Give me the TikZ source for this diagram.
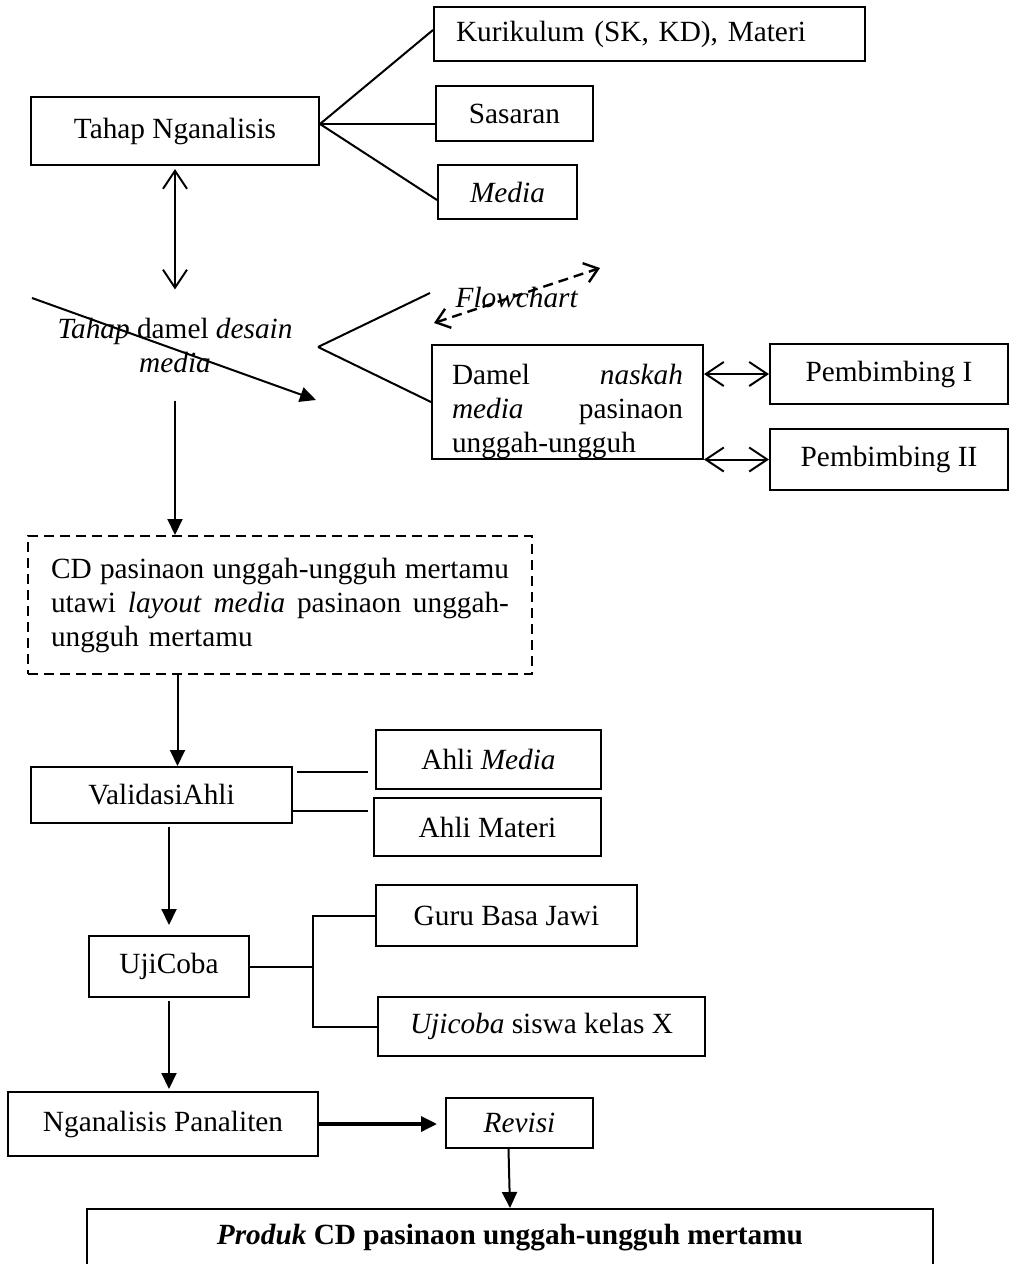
\documentclass[tikz,border=0pt]{standalone}
\usepackage{fontspec}
\setmainfont{Liberation Serif}
\usetikzlibrary{arrows.meta}

\begin{document}
\begin{tikzpicture}[x=1pt,y=-1pt,font=\fontsize{29.3pt}{34pt}\selectfont,
  bx/.style={draw,line width=2pt,inner sep=0pt},
  sz/.style 2 args={minimum width=#1,minimum height=#2},
  link/.style={line width=2pt},
  flow/.style={line width=2pt,-{Triangle[length=16pt,width=15pt]}},
  both/.style={line width=2pt,{Straight Barb[length=18pt,width=24pt]}-{Straight Barb[length=18pt,width=24pt]}}]
\useasboundingbox (0,0) rectangle (1010,1264);
\clip (0,0) rectangle (1010,1264);
\node[bx,sz={288}{68}] (nganalisis) at (175,131) {Tahap Nganalisis};
\node[bx,text width=387,align=left,inner xsep=22pt,minimum height=54] (kurikulum) at (649.5,34) {Kurikulum (SK, KD), Materi};
\node[bx,sz={157}{55}] (sasaran) at (514.5,113.5) {Sasaran};
\node[bx,sz={139}{54}] (media) at (507.5,192) {\textit{Media}};
\node[align=center,inner sep=0pt] (desain) at (175,345) {\textit{Tahap} damel \textit{desain}\\\textit{media}};
\node[inner sep=0pt] (flowchart) at (517,297) {\textit{Flowchart}};
\node[bx,text width=231,align=left,inner xsep=20pt,minimum height=110] (damel) at (567.5,402)
  {\rule{0pt}{40pt}Damel\hfill\textit{naskah}\\\textit{media}\hfill pasinaon\\unggah-ungguh};
\node[bx,sz={238}{60}] (pemb1) at (889,374) {Pembimbing I};
\node[bx,sz={238}{61}] (pemb2) at (889,459.5) {Pembimbing II};
\node[bx,dash pattern=on 10pt off 6pt,text width=458,align=left,inner xsep=23pt,minimum height=138] (cd) at (280,605)
  {CD\hfill pasinaon\hfill unggah-ungguh\hfill mertamu\\utawi\hfill\textit{layout}\hfill\textit{media}\hfill pasinaon\hfill unggah-\\ungguh mertamu};
\node[bx,sz={261}{56}] (valid) at (161.5,795) {ValidasiAhli};
\node[bx,sz={225}{59}] (amedia) at (488.5,759.5) {Ahli \textit{Media}};
\node[bx,sz={227}{58}] (amateri) at (487.5,827) {Ahli Materi};
\node[bx,sz={160}{61}] (uji) at (169,966.5) {UjiCoba};
\node[bx,sz={261}{61}] (guru) at (506.5,915.5) {Guru Basa Jawi};
\node[bx,sz={327}{59}] (siswa) at (541.5,1026.5) {\textit{Ujicoba} siswa kelas X};
\node[bx,sz={310}{64}] (panaliten) at (163,1124) {Nganalisis Panaliten};
\node[bx,sz={147}{50}] (revisi) at (519.5,1123) {\textit{Revisi}};
\node[bx,sz={846}{58}] (produk) at (510,1238) {\textbf{\textit{Produk} CD pasinaon unggah-ungguh mertamu}};
\coordinate (fork) at (318,347);
\coordinate (forktop) at (430,293);
\coordinate (strikea) at (32,298);
\coordinate (strikeb) at (316,400);
\coordinate (fca) at (434,323);
\coordinate (fcb) at (600,268);
\foreach \n/\s in {kurikulum/4pt,sasaran/-10.5pt,media/-8pt}
  \draw[link] ([yshift=7pt]nganalisis.east) -- ([yshift=\s]\n.west);
\draw[both,shorten <=3pt,shorten >=28pt] (nganalisis) -- (desain);
\draw[link] (fork) -- (forktop) (fork) -- (damel.west);
\draw[flow] (strikea) -- (strikeb);
\draw[line width=2.4pt,dash pattern=on 10pt off 6pt,{Straight Barb[length=13pt,width=20pt]}-{Straight Barb[length=13pt,width=20pt]}] (fca) -- (fcb);
\draw[both] (damel.east |- pemb1.west) -- (pemb1.west);
\draw[both] (damel.east |- pemb2.west) -- (pemb2.west);
\draw[flow,shorten <=28pt] (desain.south) -- (desain.south |- cd.north);
\draw[flow] ([xshift=16pt]valid.north |- cd.south) -- ([xshift=16pt]valid.north);
\draw[link] ([shift={(4pt,23pt)}]valid.east) -- ([shift={(-7pt,-12.5pt)}]amedia.west);
\draw[link,line width=2.6pt] ([yshift=-16pt]valid.east) -- ([shift={(-5pt,16pt)}]amateri.west);
\draw[flow,shorten <=3pt,shorten >=10pt] (uji.north |- valid.south) -- (uji.north);
\draw[link] (uji.east) -- ++(63,0) coordinate (ujifork);
\draw[link] (guru.west) -| (ujifork) |- (siswa.west);
\draw[flow,shorten <=3pt,shorten >=2pt] (uji.south) -- (uji.south |- panaliten.north);
\draw[flow,line width=3.4pt,shorten >=8pt] (panaliten.east) -- (panaliten.east -| revisi.west);
\draw[flow] ([xshift=-11pt]revisi.south) -- (produk.north);
\end{tikzpicture}
\end{document}
